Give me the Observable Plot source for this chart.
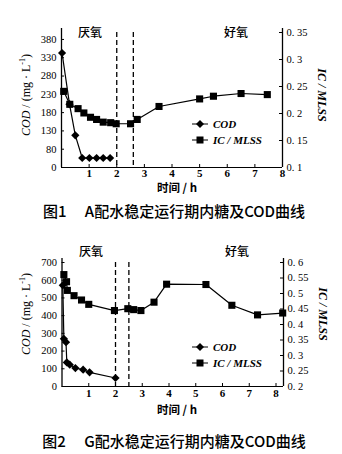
<!DOCTYPE html>
<html><head><meta charset="utf-8">
<script src="https://cdn.jsdelivr.net/npm/d3@7"></script>
<script src="https://cdn.jsdelivr.net/npm/@observablehq/plot@0.6"></script>
<style>
html,body{margin:0;padding:0;background:#fff;}
body{width:342px;height:454px;overflow:hidden;position:relative;font-family:"Liberation Serif",serif;color:#000;}
.fig{position:absolute;left:0;width:342px;}
.ov{position:absolute;white-space:nowrap;color:#000;line-height:1;}
.phase{font-family:"Noto Sans CJK SC",sans-serif;font-size:12px;font-weight:500;transform:translate(-50%,-50%);}
.xt{font-family:"Noto Sans CJK SC",sans-serif;font-weight:700;font-size:11.5px;transform:translate(-50%,-50%);}
.yl{font-size:12px;transform:translate(-50%,-50%) rotate(-90deg);}
.yr{font-size:12px;font-style:italic;font-weight:700;transform:translate(-50%,-50%) rotate(90deg);}
.cap{font-family:"Noto Sans CJK SC",sans-serif;font-size:15px;font-weight:500;transform:translate(-50%,-50%);}
.leg{font-style:italic;font-weight:700;font-size:11px;display:flex;align-items:center;transform:translateY(-50%);}
.leg svg{margin-right:5px;}
</style></head><body>
<div id="f1" class="fig" style="top:0"></div>
<div id="f2" class="fig" style="top:230px"></div>
<script>
// ---------- shared ----------
const xTicks = [1, 2, 3, 4, 5, 6, 7, 8];
const phaseLabels = ["厌氧", "好氧"];
const seriesNames = ["COD", "IC / MLSS"];

// ---------- Figure 1 (A配水) ----------
const f1CodTime = [0.02, 0.29, 0.5, 0.75, 1.01, 1.27, 1.51, 1.76];
const f1Cod = [343, 203, 118, 56, 56, 56, 56, 56];
const f1IcTime = [0.08, 0.3, 0.6, 0.81, 1.05, 1.27, 1.51, 1.78, 1.98, 2.5, 2.74, 3.53, 5.0, 5.5, 6.5, 7.45];
const f1Ic = [0.241, 0.217, 0.209, 0.201, 0.193, 0.189, 0.184, 0.183, 0.181, 0.181, 0.189, 0.213, 0.227, 0.232, 0.237, 0.235];
const f1LeftTickVals = [30, 80, 130, 180, 230, 280, 330, 380];
const f1LeftTickLabels = ["0", "80", "130", "180", "230", "280", "330", "380"];
const f1RightTicks = [0.1, 0.15, 0.2, 0.25, 0.3, 0.35];
const f1RightLabels = ["0. 1", "0. 15", "0. 2", "0. 25", "0. 3", "0. 35"];
const f1Dividers = [2, 2.6];
const f1Caption = "图1\u2003 A配水稳定运行期内糖及COD曲线";

// ---------- Figure 2 (G配水) ----------
const f2CodTime = [0.03, 0.07, 0.15, 0.18, 0.29, 0.5, 0.79, 1.03, 2.0];
const f2Cod = [571, 269, 250, 136, 123, 104, 95, 80, 48];
const f2IcTime = [0.07, 0.17, 0.2, 0.45, 0.73, 1.0, 1.96, 2.46, 2.68, 2.95, 3.44, 3.91, 5.38, 6.35, 7.31, 8.25];
const f2Ic = [0.561, 0.538, 0.51, 0.493, 0.479, 0.465, 0.445, 0.451, 0.448, 0.445, 0.472, 0.53, 0.529, 0.462, 0.431, 0.437];
const f2LeftTickVals = [0, 100, 200, 300, 400, 500, 600, 700];
const f2LeftTickLabels = ["0", "100", "200", "300", "400", "500", "600", "700"];
const f2RightTicks = [0.2, 0.25, 0.3, 0.35, 0.4, 0.45, 0.5, 0.55, 0.6];
const f2RightLabels = ["0. 2", "0. 25", "0. 3", "0. 35", "0. 4", "0. 45", "0. 5", "0. 55", "0. 6"];
const f2Dividers = [2, 2.5];
const f2Caption = "图2\u2003 G配水稳定运行期内糖及COD曲线";

function legendSvg(symbol) {
  const p = symbol === "diamond"
    ? '<path d="M8,0.5 L12,4.5 L8,8.5 L4,4.5Z" fill="#000"/>'
    : '<rect x="4.5" y="1" width="7" height="7" fill="#000"/>';
  return `<svg width="16" height="9" viewBox="0 0 16 9"><line x1="0" y1="4.5" x2="16" y2="4.5" stroke="#000" stroke-width="1.2"/>${p}</svg>`;
}

function makeFig(el, cfg) {
  const {W, H, mt, mb, ml, mr, xMax, yDom, rDom} = cfg;
  const innerH = H - mt - mb, innerW = W - ml - mr;
  // map right-axis values onto left-axis value space
  const r2l = d3.scaleLinear().domain(rDom).range(yDom);
  const codData = cfg.codTime.map((t, i) => ({t, v: cfg.cod[i]}));
  const icData = cfg.icTime.map((t, i) => ({t, v: r2l(cfg.ic[i])}));
  const leftLab = new Map(cfg.leftVals.map((v, i) => [v, cfg.leftLabels[i]]));
  const rightMapped = cfg.rightTicks.map(r2l);
  const rightLab = new Map(rightMapped.map((v, i) => [v, cfg.rightLabels[i]]));
  const plot = Plot.plot({
    width: W, height: H, marginTop: mt, marginBottom: mb, marginLeft: ml, marginRight: mr,
    x: {domain: [0, xMax], axis: null},
    y: {domain: yDom, axis: null},
    style: {fontFamily: "'Liberation Serif', serif", fontSize: "10px", color: "#000", background: "#fff", overflow: "visible"},
    marks: [
      Plot.ruleX(cfg.dividers, {stroke: "#000", strokeWidth: 1.3, strokeDasharray: "5,3"}),
      Plot.ruleY([yDom[0]], {stroke: "#000", strokeWidth: 1}),
      Plot.ruleX([0], {stroke: "#000", strokeWidth: 1.3, insetTop: -4}),
      Plot.ruleX([xMax], {stroke: "#000", strokeWidth: 1.3, insetTop: -4}),
      Plot.ruleX(xTicks, {stroke: "#000", strokeWidth: 1, insetTop: innerH - 3}),
      Plot.ruleY(cfg.leftVals, {stroke: "#000", strokeWidth: 1, insetRight: innerW - 3}),
      Plot.ruleY(rightMapped, {stroke: "#000", strokeWidth: 1, insetLeft: innerW - 3}),
      Plot.axisX(xTicks, {anchor: "bottom", tickSize: 0, tickPadding: cfg.xPad, fontWeight: 700, fontSize: 11, tickFormat: d => String(d), label: null}),
      Plot.axisY(cfg.leftVals, {anchor: "left", tickSize: 0, tickPadding: 5, fontSize: 10.5, tickFormat: d => leftLab.get(d), label: null}),
      Plot.axisY(rightMapped, {anchor: "right", tickSize: 0, tickPadding: 4, fontSize: 10.5, tickFormat: d => rightLab.get(d), label: null}),
      Plot.line(icData, {x: "t", y: "v", stroke: "#000", strokeWidth: 1.2}),
      Plot.line(codData, {x: "t", y: "v", stroke: "#000", strokeWidth: 1.2}),
      Plot.dot(icData, {x: "t", y: "v", symbol: "square", r: 4, fill: "#000"}),
      Plot.dot(codData, {x: "t", y: "v", symbol: "diamond2", r: 3.7, fill: "#000"})
    ]
  });
  el.appendChild(plot);
  const add = (cls, html, x, y) => {
    const d = document.createElement("div");
    d.className = "ov " + cls;
    d.innerHTML = html;
    d.style.left = x + "px"; d.style.top = y + "px";
    el.appendChild(d);
  };
  const o = cfg.ov;
  add("phase", phaseLabels[0], o.p1x, o.py);
  add("phase", phaseLabels[1], o.p2x, o.py);
  add("yl", '<i>COD</i> / (mg · L<sup style="font-size:8px">-1</sup>)', o.ylx, o.yy);
  add("yr", "IC / MLSS", o.yrx, o.yy);
  add("xt", "时间 / h", o.xtx, o.xty);
  add("cap", cfg.caption, o.capx, o.capy);
  add("leg", legendSvg("diamond") + seriesNames[0], o.legx, o.leg1y);
  add("leg", legendSvg("square") + seriesNames[1], o.legx, o.leg2y);
}

makeFig(document.getElementById("f1"), {
  W: 342, H: 198, mt: 32, mb: 31, ml: 61, mr: 60, xMax: 8, yDom: [30, 399], rDom: [0.1, 0.35],
  xPad: 2,
  codTime: f1CodTime, cod: f1Cod, icTime: f1IcTime, ic: f1Ic,
  leftVals: f1LeftTickVals, leftLabels: f1LeftTickLabels,
  rightTicks: f1RightTicks, rightLabels: f1RightLabels,
  dividers: f1Dividers, caption: f1Caption,
  ov: {p1x: 90, p2x: 236, py: 32, ylx: 25, yrx: 322, yy: 95, xtx: 177, xty: 188, capx: 174, capy: 210, legx: 192, leg1y: 124, leg2y: 140}
});

makeFig(document.getElementById("f2"), {
  W: 342, H: 190, mt: 32, mb: 34, ml: 61.5, mr: 59, xMax: 8.28, yDom: [0, 700], rDom: [0.2, 0.6],
  xPad: 3,
  codTime: f2CodTime, cod: f2Cod, icTime: f2IcTime, ic: f2Ic,
  leftVals: f2LeftTickVals, leftLabels: f2LeftTickLabels,
  rightTicks: f2RightTicks, rightLabels: f2RightLabels,
  dividers: f2Dividers, caption: f2Caption,
  ov: {p1x: 91, p2x: 237, py: 21, ylx: 25, yrx: 323, yy: 84, xtx: 177, xty: 180, capx: 174, capy: 210, legx: 192, leg1y: 117, leg2y: 133}
});
</script>
</body></html>
